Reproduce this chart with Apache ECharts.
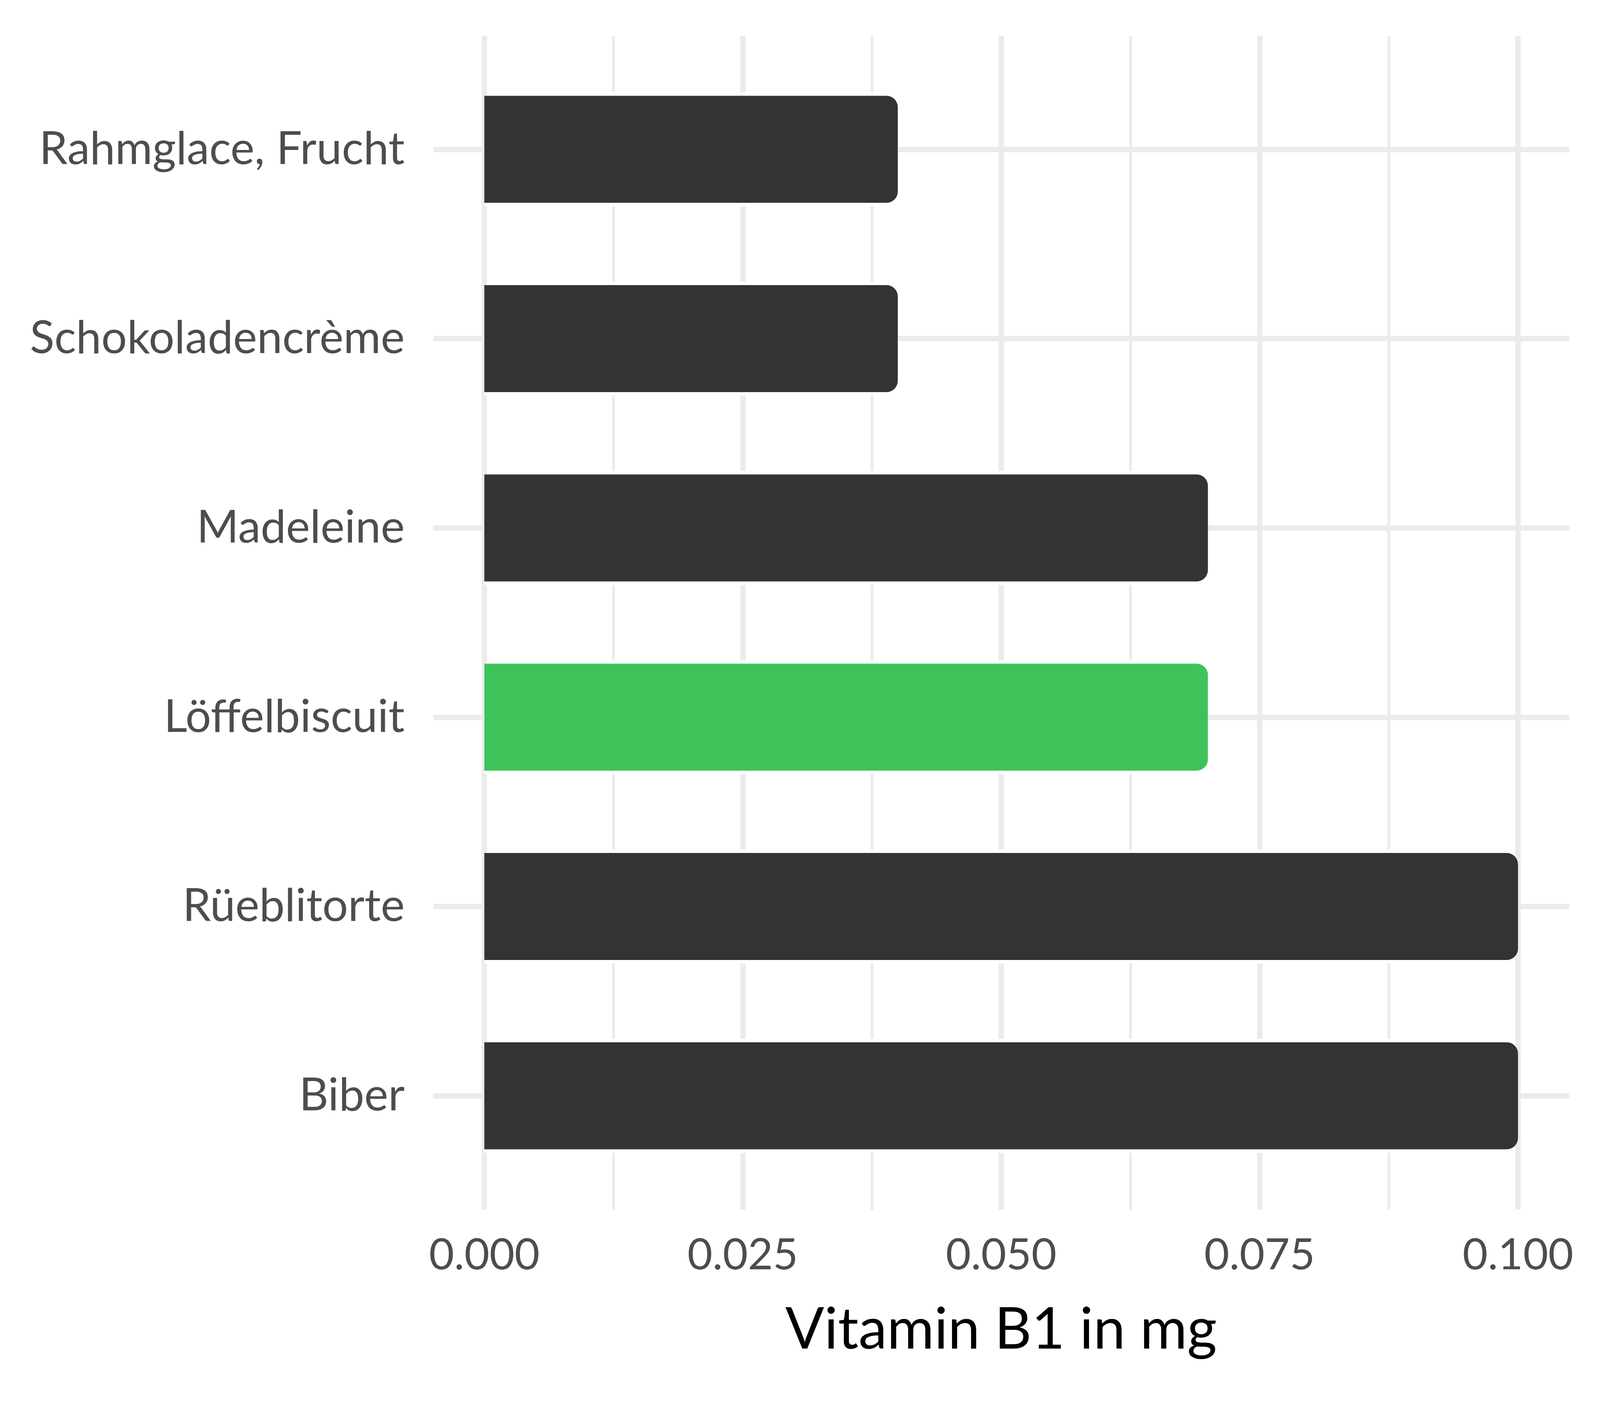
<!DOCTYPE html>
<html>
<head>
<meta charset="utf-8">
<script src="https://cdn.jsdelivr.net/npm/echarts@6/dist/echarts.min.js"></script>
<style>
html,body{margin:0;padding:0;background:#fff;overflow:hidden;}
#chart{width:100vw;height:100vh;}
</style>
</head>
<body>
<div id="chart"></div>
<script>
const categories = ["Rahmglace, Frucht", "Schokoladencrème", "Madeleine", "Löffelbiscuit", "Rüeblitorte", "Biber"];
const values = [0.04, 0.04, 0.07, 0.07, 0.1, 0.1];
const highlighted = "Löffelbiscuit";
const xTicks = [0, 0.025, 0.05, 0.075, 0.1];
const axisTitle = "Vitamin B1 in mg";

const DARK = "#333333", GREEN = "#3EC35A", GRID = "#EBEBEB";
const FONT = "Lato";

const el = document.getElementById('chart');
const W = el.clientWidth || window.innerWidth, H = el.clientHeight || window.innerHeight;
const sx = W / 4800, sy = H / 3600, s = Math.min(sx, sy);
const X = v => v * sx, Y = v => v * sy, S = v => v * s;

const chart = echarts.init(el, null, {renderer: 'canvas', width: W, height: H});
const option = {
  backgroundColor: '#ffffff',
  animation: false,
  grid: [
    // bars
    {left: X(1453), right: X(246), top: Y(140), bottom: Y(552)},
    // vertical grid lines + x labels (full panel height)
    {left: X(1453), right: X(246), top: Y(92), bottom: Y(503)},
    // horizontal grid lines + category labels (full panel width)
    {left: X(1300), right: X(92), top: Y(140), bottom: Y(552)}
  ],
  xAxis: [
    {gridIndex: 0, type: 'value', min: 0, max: 0.1, show: false},
    {gridIndex: 1, type: 'value', min: xTicks[0], max: xTicks[xTicks.length-1], interval: 0.025,
     axisLine: {show: false}, axisTick: {show: false},
     axisLabel: {fontFamily: FONT, fontSize: S(130), color: '#4D4D4D', margin: Y(62),
                 formatter: v => v.toFixed(3)},
     splitLine: {show: true, lineStyle: {color: GRID, width: S(16)}},
     minorTick: {show: false, splitNumber: 2},
     minorSplitLine: {show: true, lineStyle: {color: GRID, width: S(8)}},
     name: axisTitle, nameLocation: 'middle', nameGap: Y(235),
     nameTextStyle: {fontFamily: FONT, fontSize: S(172), color: '#000000'}},
    {gridIndex: 2, type: 'value', min: 0, max: 1, show: false}
  ],
  yAxis: [
    {gridIndex: 0, type: 'category', data: categories, inverse: true, show: false},
    {gridIndex: 1, type: 'value', show: false},
    {gridIndex: 2, type: 'category', data: categories, inverse: true,
     axisLine: {show: false},
     axisTick: {show: true, inside: true, alignWithLabel: true, length: X(3408),
                lineStyle: {color: GRID, width: S(16)}},
     axisLabel: {fontFamily: FONT, fontSize: S(136), color: '#4D4D4D', margin: X(86)},
     splitLine: {show: false}},
    {gridIndex: 0, type: 'category', data: categories, inverse: true, show: false}
  ],
  series: [
    {
      type: 'bar', xAxisIndex: 0, yAxisIndex: 3,
      barWidth: Y(292),
      data: values,
      itemStyle: {color: '#ffffff', borderColor: '#ffffff', borderWidth: S(20), borderRadius: [0, S(44), S(44), 0]},
      silent: true, z: 2
    },
    {
      type: 'bar', xAxisIndex: 0, yAxisIndex: 0,
      barWidth: Y(274),
      data: values.map((v, i) => ({
        value: v,
        itemStyle: {color: categories[i] === highlighted ? GREEN : DARK}
      })),
      itemStyle: {borderRadius: [0, S(34), S(34), 0]},
      z: 3
    }
  ]
};
chart.setOption(option);
</script>
</body>
</html>
